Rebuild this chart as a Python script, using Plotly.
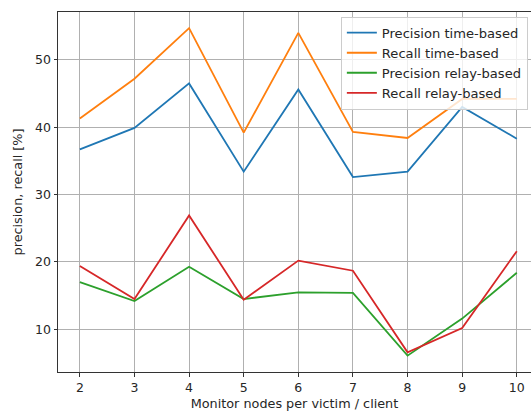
import plotly.graph_objects as go

nodes = [2, 3, 4, 5, 6, 7, 8, 9, 10]
precision_time = [36.7, 39.9, 46.5, 33.4, 45.6, 32.6, 33.4, 43.0, 38.3]
recall_time = [41.3, 47.2, 54.7, 39.2, 54.0, 39.3, 38.4, 44.2, 44.2]
precision_relay = [17.0, 14.2, 19.3, 14.5, 15.5, 15.4, 6.1, 11.6, 18.4]
recall_relay = [19.4, 14.5, 26.9, 14.4, 20.2, 18.7, 6.6, 10.2, 21.6]

series = [
    ("Precision time-based", precision_time, "#1f77b4"),
    ("Recall time-based", recall_time, "#ff7f0e"),
    ("Precision relay-based", precision_relay, "#2ca02c"),
    ("Recall relay-based", recall_relay, "#d62728"),
]

fig = go.Figure()
for name, vals, color in series:
    fig.add_trace(go.Scatter(x=nodes, y=vals, mode="lines", name=name,
                             line=dict(color=color, width=1.8)))

font = dict(family="DejaVu Sans", size=12.5, color="#262626")
title_font = dict(family="DejaVu Sans", size=12.8, color="#262626")
fig.update_layout(
    width=531, height=412,
    margin=dict(l=57.5, r=0, t=12, b=40),
    plot_bgcolor="white", paper_bgcolor="white",
    font=font,
    showlegend=True,
    legend=dict(x=0.598, y=0.987, xanchor="left", yanchor="top",
                bgcolor="rgba(255,255,255,0.8)", bordercolor="#cccccc",
                borderwidth=1, font=dict(family="DejaVu Sans", size=13.1, color="#262626"),
                tracegroupgap=0, itemwidth=30),
)
fig.update_xaxes(
    range=[1.6, 10.26], tickmode="array", tickvals=nodes,
    ticktext=[str(n) for n in nodes],
    showgrid=True, gridcolor="#b0b0b0", gridwidth=0.8,
    showline=True, linecolor="#333333", linewidth=1, mirror=True,
    ticks="outside", ticklen=3.5, tickcolor="#333333", zeroline=False,
    title=dict(text="Monitor nodes per victim / client", standoff=5, font=title_font),
)
fig.update_yaxes(
    range=[3.67, 57.1], tickvals=[10, 20, 30, 40, 50],
    showgrid=True, gridcolor="#b0b0b0", gridwidth=0.8,
    showline=True, linecolor="#333333", linewidth=1, mirror=False,
    ticks="outside", ticklen=3.5, tickcolor="#333333", zeroline=False,
    title=dict(text="precision, recall [%]", standoff=9, font=title_font),
)
fig.write_html("out.html")
